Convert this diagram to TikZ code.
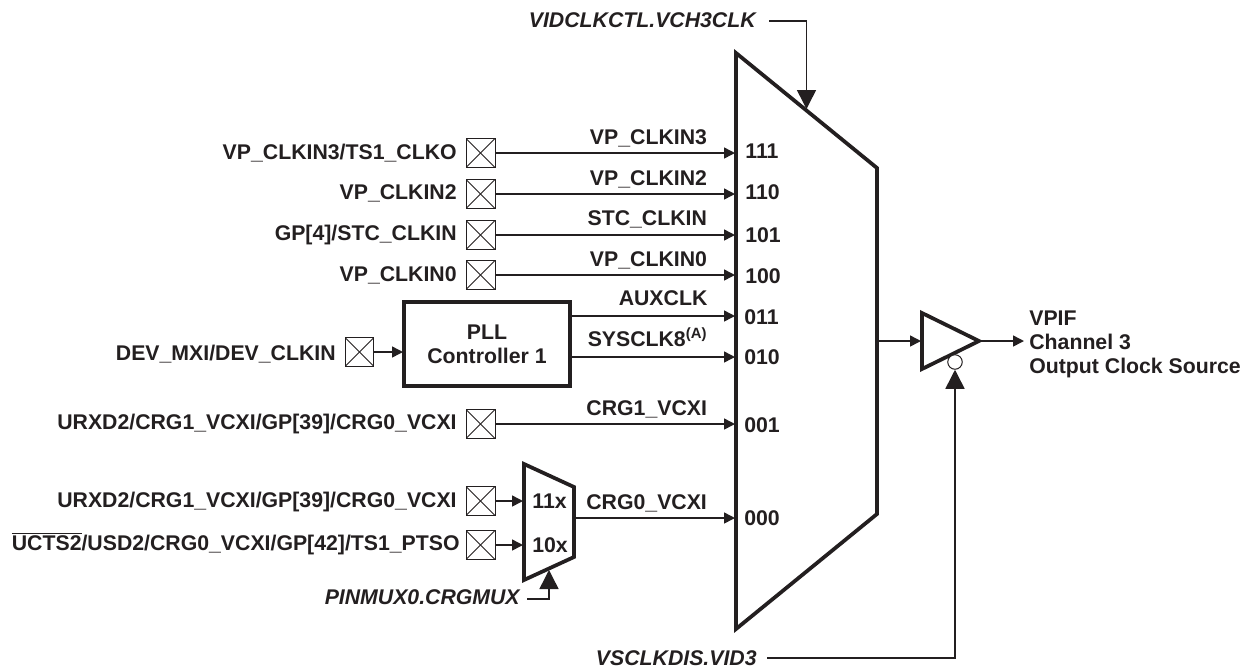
\documentclass[tikz,border=0pt]{standalone}
\usepackage{fontspec}
\setmainfont{Liberation Sans}
\usepackage{tikz}
\usetikzlibrary{arrows.meta,positioning}
\definecolor{inkdark}{HTML}{231F20}

\begin{document}
\begin{tikzpicture}[
  x=0.02cm, y=-0.02cm,
  every node/.style={font=\fontsize{12.1}{13.6}\selectfont\bfseries, text=inkdark, inner sep=0pt},
  padbox/.style={draw=inkdark, line width=0.2mm, minimum size=5.8mm, path picture={
    \draw[inkdark, line width=0.2mm] (path picture bounding box.north west) -- (path picture bounding box.south east);
    \draw[inkdark, line width=0.2mm] (path picture bounding box.south west) -- (path picture bounding box.north east);}},
  pinname/.style={anchor=base east},
  signame/.style={anchor=base east},
  selname/.style={anchor=base west},
  ctlname/.style={anchor=base east, font=\fontsize{12.1}{13.6}\selectfont\bfseries\itshape},
  pllbox/.style={draw=inkdark, line width=0.75mm, minimum width=33.2mm, minimum height=16.8mm, align=center},
  heavy/.style={draw=inkdark, line width=0.75mm, line join=miter},
  arrow/.style={draw=inkdark, line width=0.3mm, -{Triangle[length=2.2mm,width=2.2mm]}},
  ctlarrow/.style={draw=inkdark, line width=0.3mm, -{Triangle[length=3.8mm,width=3.8mm]}},
]
  \useasboundingbox (0,0) rectangle (1242,667);

  % large selector
  \draw[heavy] (736,53) -- (877,168) -- (877,514) -- (736,629) -- cycle;
  \coordinate (in111) at (735,153);
  \coordinate (in110) at (735,194);
  \coordinate (in101) at (735,235);
  \coordinate (in100) at (735,275);
  \coordinate (in011) at (735,316);
  \coordinate (in010) at (735,357);
  \coordinate (in001) at (735,424);
  \coordinate (in000) at (735,518);
  \coordinate (bigout) at (877,341);
  \coordinate (bigctl) at (806.5,109);

  \node[selname] (sel111) at (745,158.5) {111};
  \node[selname] (sel110) at (745,199.5) {110};
  \node[selname] (sel101) at (745,242.5) {101};
  \node[selname] (sel100) at (745,283.5) {100};
  \node[selname] (sel011) at (744,324) {011};
  \node[selname] (sel010) at (744,364) {010};
  \node[selname] (sel001) at (744,432.5) {001};
  \node[selname] (sel000) at (744,525.5) {000};

  % pads and their names
  \node[padbox] (padthree) at (480.5,153) {};
  \node[padbox] (padtwo)   at (480.5,194) {};
  \node[padbox] (padstc)   at (480.5,235) {};
  \node[padbox] (padzero)  at (480.5,275) {};
  \node[padbox] (padmxi)   at (359.5,352) {};
  \node[padbox] (padone)   at (480.5,424) {};
  \node[padbox] (padvcxi)  at (480.5,501) {};
  \node[padbox] (paducts)  at (480.5,545) {};

  \node[pinname] (namethree) at (457,159) {VP\_CLKIN3/TS1\_CLKO};
  \node[pinname] (nametwo)   at (457,199.5) {VP\_CLKIN2};
  \node[pinname] (namestc)   at (457,240) {GP[4]/STC\_CLKIN};
  \node[pinname] (namezero)  at (457,281) {VP\_CLKIN0};
  \node[pinname] (namemxi)   at (336,360) {DEV\_MXI/DEV\_CLKIN};
  \node[pinname] (nameone)   at (457,429) {URXD2/CRG1\_VCXI/GP[39]/CRG0\_VCXI};
  \node[pinname] (namevcxi)  at (457,507.5) {URXD2/CRG1\_VCXI/GP[39]/CRG0\_VCXI};
  \node[pinname] (nameucts)  at (460,550.5) {$\overline{\mbox{UCTS2}}$/USD2/CRG0\_VCXI/GP[42]/TS1\_PTSO};

  % clock controller
  \node[pllbox] (pll) at (487,344) {PLL\\Controller 1};
  \coordinate (pllin) at (403,352);
  \coordinate (pllaux) at (572,316);
  \coordinate (pllsys) at (572,357);

  % small selector
  \draw[heavy] (524,464) -- (574,487) -- (574,557) -- (524,580) -- cycle;
  \coordinate (smallin) at (523,501);
  \coordinate (smallinb) at (523,545);
  \coordinate (smallout) at (574,518);
  \coordinate (smallctl) at (549,570);
  \node[selname] (selhigh) at (532,508.5) {11x};
  \node[selname] (sellow)  at (532,552.5) {10x};

  % output buffer
  \draw[heavy] (922,313) -- (979,341) -- (922,369) -- cycle;
  \node[draw=inkdark, line width=0.2mm, fill=white, circle, minimum size=2.9mm] (enablering) at (955,362) {};
  \coordinate (bufin) at (921,341);
  \coordinate (bufout) at (979,341);
  \coordinate (outend) at (1024,341);

  \node[anchor=base west, align=left] (outname) at (1029,373) {VPIF\\Channel 3\\Output Clock Source};

  % control names
  \node[ctlname] (vchname) at (756,27.5) {VIDCLKCTL.VCH3CLK};
  \node[ctlname] (crgname) at (520,604.5) {PINMUX0.CRGMUX};
  \node[ctlname] (vidname) at (757,665) {VSCLKDIS.VID3};
  \coordinate (vchstart) at (769,21);
  \coordinate (crgstart) at (527,599);
  \coordinate (vidstart) at (767,658);

  % wires
  \draw[arrow] (padthree.east) -- (in111) node[signame, pos=0.886, yshift=1.8mm] (sigthree) {VP\_CLKIN3};
  \draw[arrow] (padtwo.east) -- (in110) node[signame, pos=0.886, yshift=1.8mm] (sigtwo) {VP\_CLKIN2};
  \draw[arrow] (padstc.east) -- (in101) node[signame, pos=0.886, yshift=1.9mm] (sigstc) {STC\_CLKIN};
  \draw[arrow] (padzero.east) -- (in100) node[signame, pos=0.886, yshift=1.8mm] (sigzero) {VP\_CLKIN0};
  \draw[arrow] (pllaux) -- (in011) node[signame, pos=0.835, yshift=2.2mm] (sigaux) {AUXCLK};
  \draw[arrow] (pllsys) -- (in010) node[signame, pos=0.835, yshift=2.2mm] (sigsys) {SYSCLK8\textsuperscript{(A)}};
  \draw[arrow] (padone.east) -- (in001) node[signame, pos=0.886, yshift=1.8mm] (sigone) {CRG1\_VCXI};
  \draw[arrow] (smallout) -- (in000) node[signame, pos=0.83, yshift=1.7mm] (sigsmall) {CRG0\_VCXI};

  \draw[arrow] (padmxi.east) -- (pllin);
  \draw[arrow] (padvcxi.east) -- (smallin);
  \draw[arrow] (paducts.east) -- (smallinb);
  \draw[arrow] (bigout) -- (bufin);
  \draw[arrow] (bufout) -- (outend);

  \draw[ctlarrow] (vchstart) -| (bigctl);
  \draw[ctlarrow] (crgstart) -| (smallctl);
  \draw[ctlarrow] (vidstart) -| (enablering);
\end{tikzpicture}
\end{document}
